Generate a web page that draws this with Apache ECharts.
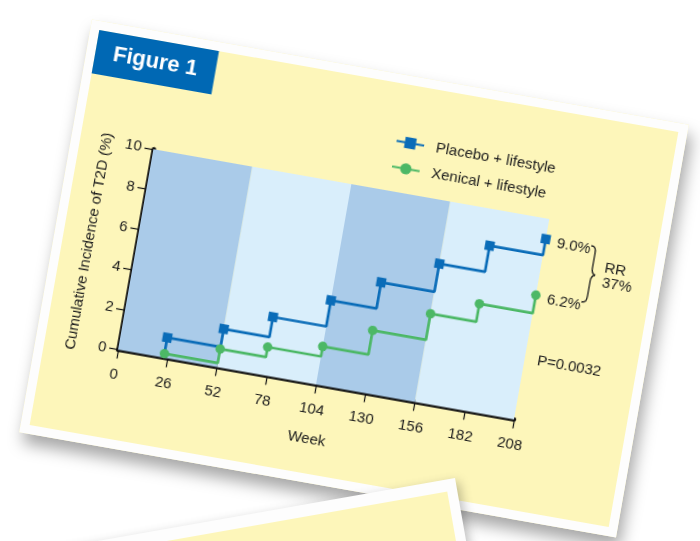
<!DOCTYPE html>
<html>
<head>
<meta charset="utf-8">
<title>Figure 1</title>
<script src="https://cdn.jsdelivr.net/npm/echarts@6/dist/echarts.min.js"></script>
<style>
html, body { margin: 0; padding: 0; width: 700px; height: 541px; overflow: hidden; background: #fff; }
#card {
    position: absolute; left: 51px; top: 69px; width: 588px; height: 401px;
    background: #fdf6ba; border: 9px solid #fdfdfd;
    transform-origin: center center; transform: rotate(10deg);
    box-shadow: 5px 10px 16px rgba(0,0,0,0.35);
}
#card2 {
    position: absolute; left: -67px; top: 478px; width: 500px; height: 300px;
    background: #fdf6ba; border: 12px solid #fdfdfd; border-right-width: 10px;
    transform-origin: right top; transform: rotate(-10deg);
    box-shadow: 3px 4px 10px rgba(0,0,0,0.25);
}
#main { width: 588px; height: 401px; }
</style>
</head>
<body>
<div id="card"><div id="main"></div></div>
<div id="card2"></div>
<script>
// values
var weeks = [24, 52, 76, 104, 128, 156, 180, 208];
var placebo = [1.0, 1.9, 2.9, 4.2, 5.5, 6.9, 8.2, 9.0];
var xenical = [0.2, 0.9, 1.4, 1.9, 3.1, 4.4, 5.3, 6.2];
var weekTicks = [0, 26, 52, 78, 104, 130, 156, 182, 208];
var incidenceTicks = [0, 2, 4, 6, 8, 10];
var bandEdges = [0, 52, 104, 156, 208];
var bandColors = ['#aacbe9', '#d9eefb'];
var seriesNames = ['Placebo + lifestyle', 'Xenical + lifestyle'];
var endLabels = ['9.0%', '6.2%'];

(function () {
    var font = '"Liberation Sans", Arial, sans-serif';
    var ink = '#1c1c1c';
    var blue = '#0a6cb8';
    var green = '#4cb866';

    var myChart = echarts.init(document.getElementById('main'));

    function lastLabel(txt) {
        return {
            show: true, position: 'right', distance: 7, offset: [0, 3],
            formatter: txt, color: ink, fontSize: 15, fontFamily: font
        };
    }

    // placebo line starts from the same level as the xenical one
    var placeboData = [{value: [weeks[0], xenical[0]], symbol: 'none'}];
    weeks.forEach(function (w, i) {
        var item = {value: [w, placebo[i]]};
        if (i === weeks.length - 1) item.label = lastLabel(endLabels[0]);
        placeboData.push(item);
    });
    var xenicalData = weeks.map(function (w, i) {
        var item = {value: [w, xenical[i]]};
        if (i === weeks.length - 1) item.label = lastLabel(endLabels[1]);
        return item;
    });

    var bands = [];
    for (var i = 0; i < bandEdges.length - 1; i++) {
        bands.push([
            {xAxis: bandEdges[i], itemStyle: {color: bandColors[i % 2]}},
            {xAxis: bandEdges[i + 1]}
        ]);
    }

    var axisLine = {lineStyle: {color: '#111', width: 4.5}};
    var axisTick = {length: 9, lineStyle: {color: '#111', width: 1.2}};

    // the "}" between the two end values
    var braceStyle = {stroke: ink, lineWidth: 1.3, fill: null};
    var brace = {
        type: 'group', x: 522, y: 127, silent: true,
        children: [
            {type: 'bezierCurve', shape: {x1: 0, y1: 0, cpx1: 4, cpy1: 0, cpx2: 5, cpy2: 2, x2: 5, y2: 7}, style: braceStyle},
            {type: 'line', shape: {x1: 5, y1: 7, x2: 5, y2: 22}, style: braceStyle},
            {type: 'bezierCurve', shape: {x1: 5, y1: 22, cpx1: 5, cpy1: 26, cpx2: 6, cpy2: 28, x2: 9, y2: 28.5}, style: braceStyle},
            {type: 'bezierCurve', shape: {x1: 9, y1: 28.5, cpx1: 6, cpy1: 29, cpx2: 5, cpy2: 31, x2: 5, y2: 35}, style: braceStyle},
            {type: 'line', shape: {x1: 5, y1: 35, x2: 5, y2: 50}, style: braceStyle},
            {type: 'bezierCurve', shape: {x1: 5, y1: 50, cpx1: 5, cpy1: 55, cpx2: 4, cpy2: 57, x2: 0, y2: 57}, style: braceStyle}
        ]
    };

    var option = {
        animation: false,
        textStyle: {fontFamily: font},
        title: {
            text: 'Figure 1', left: 0, top: 0,
            backgroundColor: '#0068b4',
            padding: [11, 18, 11, 18],
            textStyle: {color: '#fff', fontSize: 22, fontWeight: 'bold', fontFamily: font}
        },
        legend: {
            data: seriesNames, orient: 'vertical', left: 311, top: 50,
            itemWidth: 28, itemHeight: 14, itemGap: 11, padding: 0,
            textStyle: {fontSize: 15, color: ink, fontFamily: font, padding: [0, 0, 0, 7]}
        },
        grid: {left: 74, top: 108, width: 402, height: 203.5},
        xAxis: {
            type: 'value', min: weekTicks[0], max: weekTicks[weekTicks.length - 1],
            interval: weekTicks[1] - weekTicks[0],
            name: 'Week', nameLocation: 'middle', nameGap: 48,
            nameTextStyle: {fontSize: 15, color: ink, fontFamily: font},
            axisLine: axisLine, axisTick: axisTick,
            axisLabel: {fontSize: 15, color: ink, margin: 18, fontFamily: font},
            splitLine: {show: false}
        },
        yAxis: {
            type: 'value', min: incidenceTicks[0], max: incidenceTicks[incidenceTicks.length - 1],
            interval: incidenceTicks[1] - incidenceTicks[0],
            name: 'Cumulative Incidence of T2D (%)', nameLocation: 'middle', nameGap: 40,
            nameTextStyle: {fontSize: 15, color: ink, fontFamily: font},
            axisLine: axisLine, axisTick: axisTick,
            axisLabel: {fontSize: 15, color: ink, margin: 12, fontFamily: font},
            splitLine: {show: false}
        },
        series: [
            {
                name: 'bands', type: 'line', data: [], z: 0, silent: true,
                markArea: {silent: true, data: bands}
            },
            {
                name: seriesNames[0], type: 'line', step: 'end',
                symbol: 'rect', symbolSize: 9.5, z: 3,
                itemStyle: {color: blue}, lineStyle: {color: blue, width: 2.7},
                data: placeboData
            },
            {
                name: seriesNames[1], type: 'line', step: 'end',
                symbol: 'circle', symbolSize: 9.5, z: 3,
                itemStyle: {color: green}, lineStyle: {color: green, width: 2.7},
                data: xenicalData
            }
        ],
        graphic: [
            brace,
            {type: 'text', x: 539, y: 147, style: {text: 'RR', fill: ink, font: '15px ' + font, textAlign: 'left', textVerticalAlign: 'middle'}},
            {type: 'text', x: 539, y: 162, style: {text: '37%', fill: ink, font: '15px ' + font, textAlign: 'left', textVerticalAlign: 'middle'}},
            {type: 'text', x: 521, y: 250, style: {text: 'P=0.0032', fill: ink, font: '15px ' + font, textAlign: 'center', textVerticalAlign: 'middle'}}
        ]
    };

    myChart.setOption(option);
})();
</script>
</body>
</html>
